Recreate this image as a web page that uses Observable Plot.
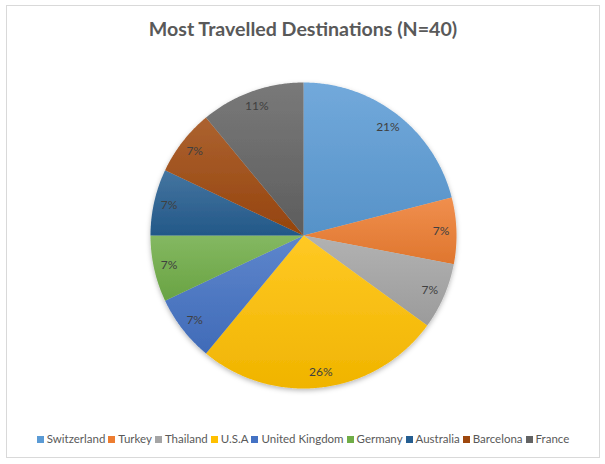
<!DOCTYPE html>
<html>
<head>
<meta charset="utf-8">
<script src="https://cdn.jsdelivr.net/npm/d3@7"></script>
<script src="https://cdn.jsdelivr.net/npm/@observablehq/plot@0.6"></script>
<style>
  html, body { margin: 0; padding: 0; background: #fff; }
  body { width: 605px; height: 464px; position: relative; overflow: hidden; font-family: Lato, "Open Sans", sans-serif; }
  #frame { position: absolute; left: 6px; top: 5px; width: 594px; height: 453px; border: 1px solid #d9d9d9; box-sizing: border-box; }
  #title { position: absolute; left: 6px; top: 17px; width: 594px; text-align: center; font-weight: 700; font-size: 19.6px; line-height: 24px; color: #595959; }
  #chart { position: absolute; left: 6px; top: 70px; }
  #legend { position: absolute; left: 6px; top: 431px; width: 594px; display: flex; justify-content: center; gap: 3px; font-size: 11.5px; line-height: 16px; color: #595959; }
  #legend span.item { display: inline-flex; align-items: center; }
  #legend span.sw { display: inline-block; width: 7px; height: 7px; margin-right: 3px; }
</style>
</head>
<body>
<div id="frame"></div>
<div id="title">Most Travelled Destinations (N=40)</div>
<div id="chart"></div>
<div id="legend"></div>
<script>
const categories = ["Switzerland", "Turkey", "Thailand", "U.S.A", "United Kingdom", "Germany", "Australia", "Barcelona", "France"];
const shares = [21, 7, 7, 26, 7, 7, 7, 7, 11];
const colors = ["#5B9BD5", "#ED7D31", "#A5A5A5", "#FFC000", "#4472C4", "#70AD47", "#255E91", "#9E480E", "#636363"];
const labelText = shares.map(v => v + "%");

const arcs = d3.pie().sort(null).value(d => d)(shares);

// polygon vertices for each slice (unit circle, angle clockwise from top)
const slices = [];
arcs.forEach((a, i) => {
  const name = categories[i];
  slices.push({name, x: 0, y: 0});
  const n = Math.max(2, Math.ceil((a.endAngle - a.startAngle) / (Math.PI / 360)));
  for (let k = 0; k <= n; k++) {
    const t = a.startAngle + (a.endAngle - a.startAngle) * k / n;
    slices.push({name, x: Math.sin(t), y: Math.cos(t)});
  }
  slices.push({name, x: 0, y: 0});
});

const labels = arcs.map((a, i) => {
  const m = (a.startAngle + a.endAngle) / 2;
  return {name: categories[i], text: labelText[i], x: 0.9 * Math.sin(m), y: 0.9 * Math.cos(m)};
});

const R = 153;
const W = 594, H = 330;
const plot = Plot.plot({
  width: W,
  height: H,
  marginLeft: W / 2 - R,
  marginRight: W / 2 - R,
  marginTop: H / 2 - R,
  marginBottom: H / 2 - R,
  x: {domain: [-1, 1], axis: null},
  y: {domain: [-1, 1], axis: null},
  color: {domain: categories, range: categories.map((d, i) => `url(#grad${i})`)},
  style: {background: "transparent", overflow: "visible"},
  marks: [
    Plot.line(slices, {x: "x", y: "y", z: "name", fill: "name", stroke: "none", curve: "linear"}),
    Plot.text(labels, {x: "x", y: "y", text: "text", fill: "#404040", fontSize: 12, fontFamily: "Lato, 'Open Sans', sans-serif"})
  ]
});

// gradient definitions (Excel-style light-to-dark vertical gradient)
const defs = colors.map((c, i) => {
  const top = d3.interpolateRgb(c, "#ffffff")(0.14);
  const bot = d3.interpolateRgb(c, "#000000")(0.06);
  return `<linearGradient id="grad${i}" x1="0" y1="0" x2="0" y2="1"><stop offset="0" stop-color="${top}"/><stop offset="1" stop-color="${bot}"/></linearGradient>`;
}).join("");
plot.insertAdjacentHTML("afterbegin", `<defs>${defs}<filter id="shadow" x="-10%" y="-10%" width="120%" height="125%"><feDropShadow dx="0" dy="2" stdDeviation="2.5" flood-color="#000" flood-opacity="0.28"/></filter></defs>`);
const lineGroup = plot.querySelector('g[aria-label="line"]');
if (lineGroup) lineGroup.setAttribute("filter", "url(#shadow)");

document.getElementById("chart").appendChild(plot);

const legend = document.getElementById("legend");
categories.forEach((c, i) => {
  const item = document.createElement("span");
  item.className = "item";
  item.innerHTML = `<span class="sw" style="background:${colors[i]}"></span>${c}`;
  legend.appendChild(item);
});
</script>
</body>
</html>
